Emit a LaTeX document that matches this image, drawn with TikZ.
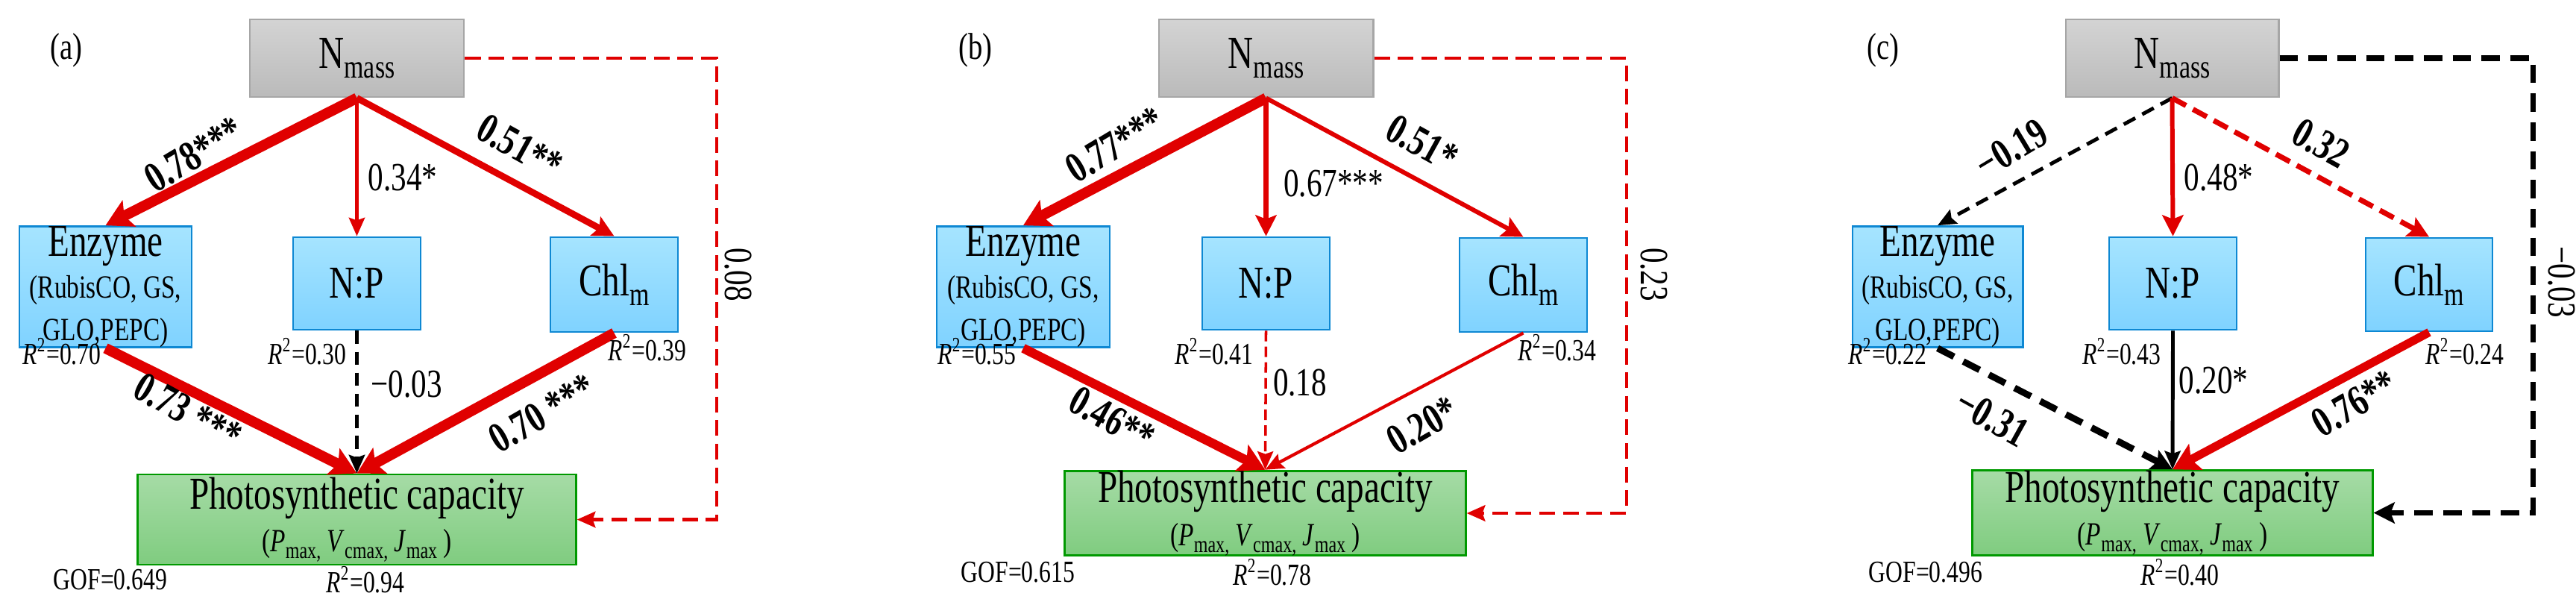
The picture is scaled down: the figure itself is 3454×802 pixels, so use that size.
\documentclass[tikz,border=0pt]{standalone}
\usepackage{fontspec}
\setmainfont{Liberation Serif}
\usetikzlibrary{arrows.meta}
\newcommand\vs[1]{\scalebox{1}[1.3]{#1}}
\newcommand\lsub[1]{\raisebox{-0.45ex}{\scalebox{0.72}{#1}}}
\newcommand\bigf{\fontsize{13.4}{15}\selectfont}
\newcommand\smf{\fontsize{9.5}{11.5}\selectfont}
\newcommand\photo{\vs{\bigf Photosynthetic capacity}\\[3pt]\vs{\smf(\textit{P}\lsub{max,} \textit{V}\lsub{cmax,} \textit{J}\lsub{max} )}}
\newcommand\enz{\vs{\bigf Enzyme}\\[1pt]\vs{\smf (RubisCO, GS,}\\[1pt]\vs{\smf GLO,PEPC)}}
\newcommand\rr[1]{\vs{\textit{R}\textsuperscript{2}=#1}}
\definecolor{rd}{HTML}{E00000}
\begin{document}
\begin{tikzpicture}[x=0.01cm,y=-0.01cm,
  every node/.style={inner sep=0pt},
  nm/.style={draw=black!35,line width=0.8pt,top color=black!17,bottom color=black!27,font=\bigf},
  bl/.style={draw=cyan!70!blue,line width=0.8pt,top color=blue!30!cyan!35,bottom color=blue!35!cyan!50,font=\bigf,align=center},
  gr/.style={draw=green!60!black,line width=0.8pt,top color=green!60!black!35,bottom color=green!60!black!50,align=center},
  bigh/.style={-{Stealth[length=10pt,width=11pt,inset=2pt]}},
  midh/.style={-{Stealth[length=8pt,width=8pt,inset=1.5pt]}},
  smh/.style={-{Stealth[length=7pt,width=6pt,inset=1pt]}},
  rdash/.style={rd,line width=1.4pt,dash pattern=on 6pt off 3pt},
  el/.style={font=\bfseries\fontsize{12.5}{14}\selectfont},
  en/.style={font=\fontsize{11.7}{14}\selectfont},
  r2/.style={font=\fontsize{9}{11}\selectfont},
  pl/.style={font=\fontsize{11}{13}\selectfont}]
\useasboundingbox (0,0) rectangle (3454,802);
% ---------- panel a
\node[pl] (la) at (89,67) {\vs{(a)}};
\node[nm,minimum width=2.87cm,minimum height=1.04cm] (Na) at (478.5,78) {\vs{N\lsub{mass}}};
\node[bl,minimum width=2.31cm,minimum height=1.25cm] (Ea) at (141.5,384.5) {\enz};
\node[bl,minimum width=1.71cm,minimum height=1.24cm] (Pa) at (478.5,380) {\vs{N:P}};
\node[bl,minimum width=1.71cm,minimum height=1.27cm] (Ca) at (823.5,381.5) {\vs{Chl\lsub{m}}};
\node[gr,minimum width=5.87cm,minimum height=1.21cm] (Fa) at (478.5,696.5) {\photo};
\coordinate (ra) at (961,400);
\draw[rd,line width=4pt,bigh] (Na.south) -- (Ea.north);
\draw[rd,line width=1.3pt,smh] (Na.south) -- (Pa.north);
\draw[rd,line width=2.5pt,midh] (Na.south) -- (Ca.north);
\draw[rd,line width=4pt,bigh] (Ea.south) -- (Fa.north);
\draw[black,line width=1.6pt,dash pattern=on 5pt off 3pt,smh] (Pa.south) -- (Fa.north);
\draw[rd,line width=4pt,bigh] (Ca.south) -- (Fa.north);
\draw[rdash,smh] (Na.east) -| (ra) |- (Fa.east);
\node[el,rotate=31] (a1) at (260,207) {\vs{0.78***}};
\node[en] (a2) at (540,238) {\vs{0.34*}};
\node[el,rotate=-29] (a3) at (697,197) {\vs{0.51**}};
\node[el,rotate=-29] (a4) at (252,552) {\vs{0.73 ***}};
\node[en] (a5) at (545,515) {\vs{−0.03}};
\node[el,rotate=30] (a6) at (727,554) {\vs{0.70 ***}};
\node[en,rotate=-90] (a7) at (990,368) {\vs{0.08}};
\node[r2] (ar1) at (83,471) {\rr{0.70}};
\node[r2] (ar2) at (412,471) {\rr{0.30}};
\node[r2] (ar3) at (868,466) {\rr{0.39}};
\node[r2] (ag) at (148,777) {\vs{GOF=0.649}};
\node[r2] (ar4) at (490,777) {\rr{0.94}};
% ---------- panel b
\node[pl] (lb) at (1308,67) {\vs{(b)}};
\node[nm,minimum width=2.87cm,minimum height=1.04cm] (Nb) at (1697.5,78) {\vs{N\lsub{mass}}};
\node[bl,minimum width=2.32cm,minimum height=1.25cm] (Eb) at (1372,384.5) {\enz};
\node[bl,minimum width=1.71cm,minimum height=1.24cm] (Pb) at (1697.5,380) {\vs{N:P}};
\node[bl,minimum width=1.71cm,minimum height=1.26cm] (Cb) at (2042.5,382) {\vs{Chl\lsub{m}}};
\node[gr,minimum width=5.37cm,minimum height=1.04cm] (Fb) at (1696.5,688) {\photo};
\coordinate (rb) at (2181,400);
\draw[rd,line width=4pt,bigh] (Nb.south) -- (Eb.north);
\draw[rd,line width=2pt,midh] (Nb.south) -- (Pb.north);
\draw[rd,line width=1.7pt,midh] (Nb.south) -- (Cb.north);
\draw[rd,line width=3.5pt,bigh] (Eb.south) -- (Fb.north);
\draw[rd,line width=1pt,dash pattern=on 4pt off 2pt,smh] (Pb.south) -- (Fb.north);
\draw[rd,line width=1.2pt,smh] (Cb.south) -- (Fb.north);
\draw[rdash,smh] (Nb.east) -| (rb) |- (Fb.east);
\node[el,rotate=31] (b1) at (1495,194) {\vs{0.77***}};
\node[en] (b2) at (1788,246) {\vs{0.67***}};
\node[el,rotate=-29] (b3) at (1907,192) {\vs{0.51*}};
\node[el,rotate=-29] (b4) at (1491,562) {\vs{0.46**}};
\node[en] (b5) at (1743,513) {\vs{0.18}};
\node[el,rotate=30] (b6) at (1907,570) {\vs{0.20*}};
\node[en,rotate=-90] (b7) at (2218,368) {\vs{0.23}};
\node[r2] (br1) at (1310,471) {\rr{0.55}};
\node[r2] (br2) at (1628,471) {\rr{0.41}};
\node[r2] (br3) at (2088,466) {\rr{0.34}};
\node[r2] (bg) at (1365,767) {\vs{GOF=0.615}};
\node[r2] (br4) at (1706,767) {\rr{0.78}};
% ---------- panel c
\node[pl] (lc) at (2525,67) {\vs{(c)}};
\node[nm,minimum width=2.85cm,minimum height=1.04cm] (Nc) at (2912.5,78) {\vs{N\lsub{mass}}};
\node[bl,minimum width=2.28cm,minimum height=1.25cm] (Ec) at (2598,384.5) {\enz};
\node[bl,minimum width=1.71cm,minimum height=1.24cm] (Pc) at (2913.5,380) {\vs{N:P}};
\node[bl,minimum width=1.70cm,minimum height=1.25cm] (Cc) at (3257,381.5) {\vs{Chl\lsub{m}}};
\node[gr,minimum width=5.36cm,minimum height=1.03cm] (Fc) at (2913,687.5) {\photo};
\coordinate (rc) at (3396,400);
\draw[black,line width=1.4pt,dash pattern=on 5pt off 3pt,smh] (Nc.south) -- (Ec.north);
\draw[rd,line width=1.7pt,midh] (Nc.south) -- (Pc.north);
\draw[rd,line width=2pt,dash pattern=on 6pt off 3pt,midh] (Nc.south) -- (Cc.north);
\draw[black,line width=2.5pt,dash pattern=on 7pt off 4pt,midh] (Ec.south) -- (Fc.north);
\draw[black,line width=1.4pt,smh] (Pc.south) -- (Fc.north);
\draw[rd,line width=3.2pt,bigh] (Cc.south) -- (Fc.north);
\draw[black,line width=2pt,dash pattern=on 7pt off 4pt,midh] (Nc.east) -| (rc) |- (Fc.east);
\node[el,rotate=31] (c1) at (2697,199) {\vs{−0.19}};
\node[en] (c2) at (2975,238) {\vs{0.48*}};
\node[el,rotate=-29] (c3) at (3112,192) {\vs{0.32}};
\node[el,rotate=-29] (c4) at (2671,560) {\vs{−0.31}};
\node[en] (c5) at (2968,510) {\vs{0.20*}};
\node[el,rotate=30] (c6) at (3157,541) {\vs{0.76**}};
\node[en,rotate=-90] (c7) at (3435,378) {\vs{−0.03}};
\node[r2] (cr1) at (2531,471) {\rr{0.22}};
\node[r2] (cr2) at (2845,471) {\rr{0.43}};
\node[r2] (cr3) at (3305,471) {\rr{0.24}};
\node[r2] (cg) at (2582,767) {\vs{GOF=0.496}};
\node[r2] (cr4) at (2923,767) {\rr{0.40}};
\end{tikzpicture}
\end{document}
